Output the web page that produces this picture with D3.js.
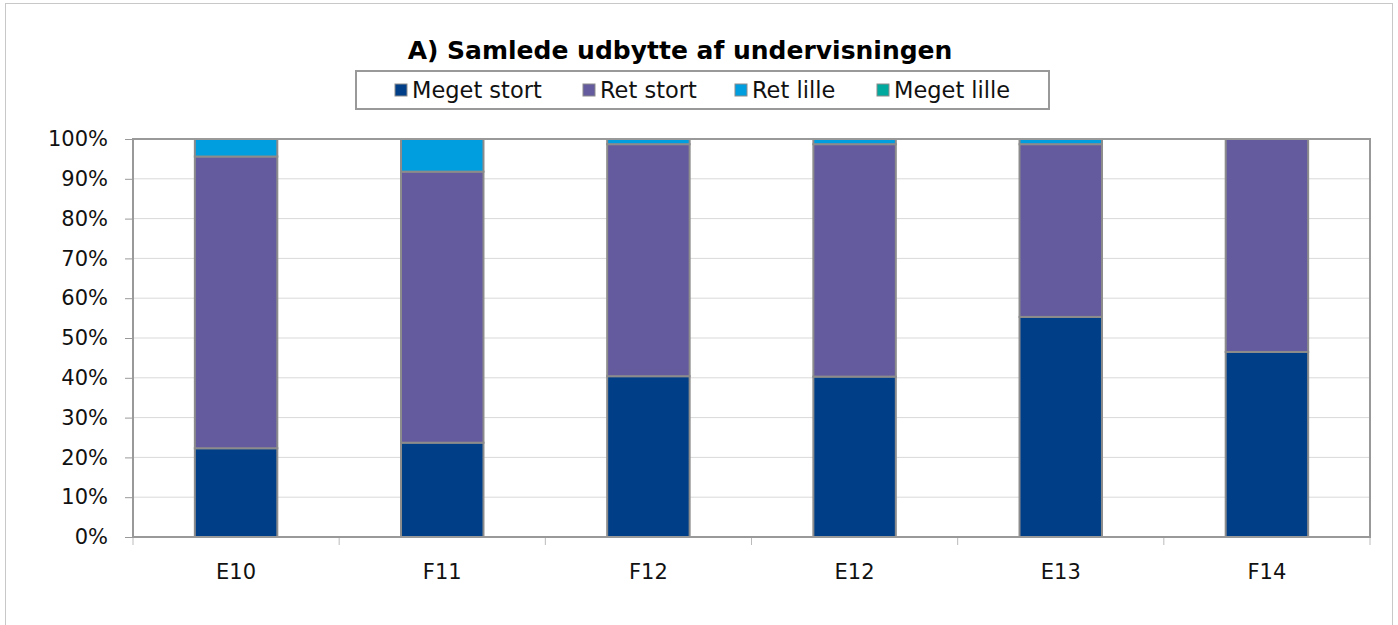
<!DOCTYPE html>
<html>
<head>
<meta charset="utf-8">
<script src="https://cdn.jsdelivr.net/npm/d3@7"></script>
<style>
  body { margin: 0; background: #fff; }
  svg { display: block; font-family: "DejaVu Sans", sans-serif; }
</style>
</head>
<body>
<svg id="chart" width="1398" height="625"></svg>
<script>
// data (percent of answers)
const categories = ["E10", "F11", "F12", "E12", "E13", "F14"];
const seriesNames = ["Meget stort", "Ret stort", "Ret lille", "Meget lille"];
const megetStort = [22.3, 23.7, 40.4, 40.3, 55.3, 46.5];
const retStort   = [73.3, 68.1, 58.3, 58.4, 43.4, 53.5];
const retLille   = [4.4, 8.2, 1.3, 1.3, 1.3, 0];
const megetLille = [0, 0, 0, 0, 0, 0];
const yTicks = [0, 10, 20, 30, 40, 50, 60, 70, 80, 90, 100];
const colors = ["#003f87", "#645a9e", "#009ddf", "#00a99d"];

const rows = categories.map((c, i) => ({
  cat: c,
  "Meget stort": megetStort[i],
  "Ret stort": retStort[i],
  "Ret lille": retLille[i],
  "Meget lille": megetLille[i]
}));

const svg = d3.select("#chart");
const margin = { top: 139, right: 28, bottom: 88, left: 133 };
const width = 1398 - margin.left - margin.right;
const height = 625 - margin.top - margin.bottom;

// outer chart frame
svg.append("rect")
  .attr("x", 5.5).attr("y", 3.5)
  .attr("width", 1387).attr("height", 640)
  .attr("fill", "none")
  .attr("stroke", "#c8c8c8")
  .attr("stroke-width", 1);

const x = d3.scaleBand().domain(categories).range([0, width]).paddingInner(0.6).paddingOuter(0.3);
const xOuter = d3.scaleBand().domain(categories).range([0, width]);
const y = d3.scaleLinear().domain([0, 100]).range([height, 0]);
const color = d3.scaleOrdinal().domain(seriesNames).range(colors);

const g = svg.append("g")
  .attr("transform", "translate(" + margin.left + "," + margin.top + ")");

// gridlines
g.append("g")
  .selectAll("line")
  .data(yTicks.filter(t => t > 0 && t < 100))
  .join("line")
  .attr("x1", 0).attr("x2", width)
  .attr("y1", d => y(d)).attr("y2", d => y(d))
  .attr("stroke", "#d9d9d9")
  .attr("stroke-width", 1);

// y axis
const yAxis = g.append("g")
  .call(d3.axisLeft(y).tickValues(yTicks).tickFormat(d => d + "%").tickSize(8).tickPadding(17));
yAxis.select(".domain").remove();
yAxis.selectAll(".tick line").attr("stroke", "#999");
yAxis.selectAll(".tick text")
  .attr("fill", "#111")
  .style("font-family", "DejaVu Sans")
  .style("font-size", "21px");

// x axis: ticks between categories
const bounds = categories.map(c => xOuter(c)).concat([width]);
g.append("g")
  .selectAll("line")
  .data(bounds)
  .join("line")
  .attr("x1", d => d).attr("x2", d => d)
  .attr("y1", height).attr("y2", height + 8)
  .attr("stroke", "#bbb")
  .attr("stroke-width", 1);

g.append("g")
  .selectAll("text")
  .data(categories)
  .join("text")
  .attr("x", d => xOuter(d) + xOuter.bandwidth() / 2)
  .attr("y", height + 42)
  .attr("text-anchor", "middle")
  .attr("fill", "#111")
  .style("font-size", "21px")
  .text(d => d);

// stacked bars
const stacked = d3.stack().keys(seriesNames)(rows);
g.append("g")
  .selectAll("g")
  .data(stacked)
  .join("g")
  .attr("fill", d => color(d.key))
  .selectAll("rect")
  .data(d => d.filter(p => p[1] - p[0] > 0))
  .join("rect")
  .attr("x", d => x(d.data.cat))
  .attr("y", d => y(d[1]))
  .attr("width", x.bandwidth())
  .attr("height", d => y(d[0]) - y(d[1]))
  .attr("stroke", "#8c8c8c")
  .attr("stroke-width", 2);

// plot area border
g.append("rect")
  .attr("x", 0).attr("y", 0)
  .attr("width", width).attr("height", height)
  .attr("fill", "none")
  .attr("stroke", "#999")
  .attr("stroke-width", 2);

// title
svg.append("text")
  .attr("x", 680)
  .attr("y", 59)
  .attr("text-anchor", "middle")
  .style("font-size", "25px")
  .style("font-weight", "bold")
  .attr("fill", "#000")
  .text("A) Samlede udbytte af undervisningen");

// legend
const legend = svg.append("g");
legend.append("rect")
  .attr("x", 356).attr("y", 71)
  .attr("width", 693).attr("height", 38)
  .attr("fill", "#fff")
  .attr("stroke", "#999")
  .attr("stroke-width", 2);

const legendX = [395, 583, 735, 877];
const item = legend.selectAll("g.item")
  .data(seriesNames)
  .join("g")
  .attr("class", "item")
  .attr("transform", (d, i) => "translate(" + legendX[i] + ",90)");
item.append("rect")
  .attr("x", 0).attr("y", -6)
  .attr("width", 12).attr("height", 12)
  .attr("fill", d => color(d))
  .attr("stroke", "#8c8c8c")
  .attr("stroke-width", 1);
item.append("text")
  .attr("x", 17)
  .attr("y", 8)
  .style("font-size", "22.5px")
  .attr("fill", "#111")
  .text(d => d);
</script>
</body>
</html>
